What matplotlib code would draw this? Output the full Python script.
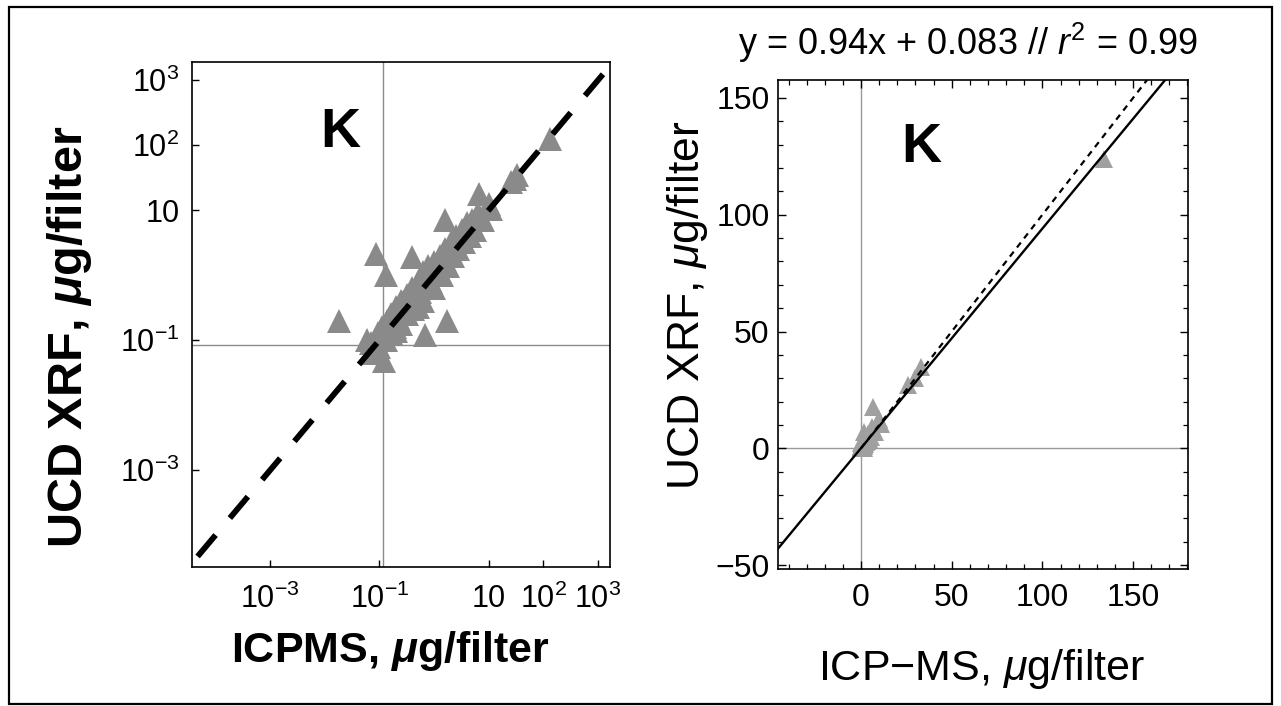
import matplotlib
matplotlib.use("Agg")
import matplotlib.pyplot as plt
from matplotlib.patches import Rectangle
from matplotlib.ticker import FixedLocator, MultipleLocator, NullLocator

plt.rcParams['font.family'] = ['Liberation Sans', 'DejaVu Sans']
plt.rcParams['mathtext.fontset'] = 'custom'
plt.rcParams['mathtext.rm'] = 'Liberation Sans'
plt.rcParams['mathtext.it'] = 'Liberation Sans:italic'
plt.rcParams['mathtext.bf'] = 'Liberation Sans:bold'
try:
    plt.rcParams['mathtext.bfit'] = 'Liberation Sans:bold:italic'
except KeyError:
    pass

# ---------------- data ----------------
icpms = [0.018, 0.088, 0.13, 0.39, 1.6, 1.7, 6.6, 11, 26, 30, 33, 134,
         0.12, 0.07, 0.06, 0.69,
         0.071, 0.079, 0.089, 0.10, 0.11, 0.13, 0.13, 0.14, 0.16, 0.16,
         0.18, 0.20, 0.20, 0.22, 0.25, 0.25, 0.28, 0.32, 0.32, 0.35,
         0.40, 0.45, 0.50, 0.50, 0.56, 0.63, 0.63, 0.71, 0.79, 0.89,
         1.0, 1.0, 1.1, 1.3, 1.4, 1.6, 1.8, 2.0, 2.2, 2.5, 2.8, 3.2,
         3.5, 4.0, 4.5, 5.0, 5.6, 6.3, 7.9, 10,
         0.095, 0.15, 0.19, 0.24, 0.30, 0.38, 0.48, 0.60, 0.85, 1.2,
         1.5, 2.4, 3.8, 0.27, 0.42]
xrf = [0.2, 2.1, 1.0, 1.9, 7.0, 0.2, 17.6, 10.4, 27, 30, 35, 124,
       0.047, 0.063, 0.10, 0.12,
       0.089, 0.063, 0.11, 0.079, 0.16, 0.10, 0.14, 0.20, 0.13, 0.25,
       0.18, 0.32, 0.14, 0.22, 0.40, 0.18, 0.28, 0.50, 0.25, 0.35,
       0.63, 0.45, 0.79, 0.32, 0.56, 1.1, 0.40, 0.79, 1.4, 0.79,
       1.6, 0.63, 1.1, 2.0, 1.0, 2.5, 1.4, 3.2, 2.0, 4.0, 2.5, 5.0,
       3.2, 6.3, 4.0, 7.1, 5.0, 8.9, 7.1, 12.6,
       0.13, 0.21, 0.16, 0.33, 0.26, 0.52, 0.42, 0.95, 1.2, 1.6,
       2.2, 3.0, 5.5, 0.38, 0.30]

# left panel (log-log)
log_xlim = (10**-4.43, 10**3.22)
log_ylim = (10**-4.49, 10**3.28)
log_ticks = [1e-3, 1e-1, 1e1, 1e2, 1e3]
log_ticklabels = [r'$10^{-3}$', r'$10^{-1}$', '10', r'$10^{2}$', r'$10^{3}$']
one_to_one_log = [4.7e-5, 1.4e3]
mdl_x = 0.115
mdl_y = 0.085

# right panel (linear)
lin_xlim = (-45.8, 180.3)
lin_ylim = (-51.7, 157.7)
lin_ticks = [-50, 0, 50, 100, 150]
one_to_one_lin = [0, 157.7]
slope = 0.94
intercept = 0.083
r2 = 0.99

W, H = 1281, 706
fig = plt.figure(figsize=(W / 100, H / 100), dpi=100)

def fx(px):
    return px / W

def fy(py):
    return 1 - py / H

# outer frame
fig.add_artist(Rectangle((fx(9), fy(704)), fx(1272) - fx(9), fy(7) - fy(704),
                         transform=fig.transFigure, fill=False,
                         edgecolor='black', linewidth=1.6))

# ---------------- left panel ----------------
ax1 = fig.add_axes([fx(192), fy(567), fx(610) - fx(192), fy(62) - fy(567)])
ax1.set_xscale('log')
ax1.set_yscale('log')
ax1.set_xlim(*log_xlim)
ax1.set_ylim(*log_ylim)
ax1.axvline(mdl_x, color='#8a8a8a', lw=1.0, zorder=1)
ax1.axhline(mdl_y, color='#8a8a8a', lw=1.0, zorder=1)
ax1.plot(icpms, xrf, linestyle='none', marker='^', markersize=17,
         color='#8a8a8a', markeredgewidth=0, zorder=2)
ax1.plot(one_to_one_log, one_to_one_log, color='black', lw=4.2,
         dashes=(4.8, 3.8), dash_capstyle='butt', zorder=3)
ax1.xaxis.set_major_locator(FixedLocator(log_ticks))
ax1.yaxis.set_major_locator(FixedLocator(log_ticks))
ax1.xaxis.set_minor_locator(NullLocator())
ax1.yaxis.set_minor_locator(NullLocator())
ax1.set_xticklabels(log_ticklabels)
ax1.set_yticklabels(log_ticklabels)
ax1.tick_params(axis='both', which='major', direction='in', length=5, width=1.0,
                labelsize=22, top=False, right=False)
ax1.tick_params(axis='x', pad=12)
ax1.tick_params(axis='y', pad=9)
for s in ax1.spines.values():
    s.set_linewidth(1.2)
ax1.text(0.355, 0.86, 'K', transform=ax1.transAxes, fontsize=40,
         fontweight='bold', ha='center', va='center')
fig.text(fx(390), fy(662), r'ICPMS, $\mathbfit{\mu}$g/filter', fontsize=31,
         fontweight='bold', ha='center', va='baseline')
fig.text(fx(70), fy(337), r'UCD XRF, $\mathbfit{\mu}$g/filter', fontsize=35,
         fontweight='bold', ha='center', va='center', rotation=90)

# ---------------- right panel ----------------
ax2 = fig.add_axes([fx(778), fy(569), fx(1188) - fx(778), fy(80) - fy(569)])
ax2.set_xlim(*lin_xlim)
ax2.set_ylim(*lin_ylim)
ax2.axvline(0, color='#999999', lw=1.0, zorder=1)
ax2.axhline(0, color='#999999', lw=1.0, zorder=1)
ax2.plot(icpms, xrf, linestyle='none', marker='^', markersize=13,
         color='#a0a0a0', markeredgewidth=0, zorder=2)
ax2.plot(one_to_one_lin, one_to_one_lin, color='black',
         lw=1.6, dashes=(2.8, 2.4), zorder=3)
fit_x = [lin_xlim[0], (lin_ylim[1] - intercept) / slope]
fit_y = [slope * v + intercept for v in fit_x]
ax2.plot(fit_x, fit_y, color='black', lw=1.7, zorder=4)
ax2.xaxis.set_major_locator(FixedLocator([0, 50, 100, 150]))
ax2.yaxis.set_major_locator(FixedLocator(lin_ticks))
ax2.xaxis.set_minor_locator(MultipleLocator(10))
ax2.yaxis.set_minor_locator(MultipleLocator(10))
ax2.tick_params(axis='both', which='major', direction='in', length=6, width=1.0,
                labelsize=23, top=True, right=True)
ax2.tick_params(axis='both', which='minor', direction='in', length=3.5, width=0.9,
                top=True, right=True)
ax2.tick_params(axis='x', which='major', pad=10)
ax2.tick_params(axis='y', which='major', pad=6)
for s in ax2.spines.values():
    s.set_linewidth(1.2)
ax2.text(0.35, 0.86, 'K', transform=ax2.transAxes, fontsize=40,
         fontweight='bold', ha='center', va='center')
fig.text(fx(968), fy(55),
         f'y = {slope}x + {intercept} // ' + r'$r^{2}$' + f' = {r2}',
         fontsize=26, ha='center', va='baseline')
fig.text(fx(982), fy(680), r'ICP$-$MS, $\mu$g/filter', fontsize=31,
         ha='center', va='baseline')
fig.text(fx(688), fy(305), r'UCD XRF, $\mu$g/filter', fontsize=32,
         ha='center', va='center', rotation=90)

fig.savefig('out.png', dpi=100)
